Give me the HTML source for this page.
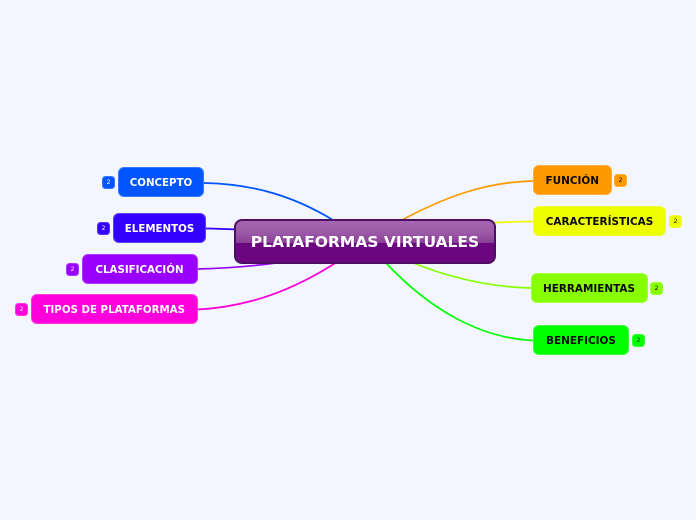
<!DOCTYPE html>
<html>
<head>
<meta charset="utf-8">
<style>
html,body{margin:0;padding:0;width:696px;height:520px;overflow:hidden;background:#f3f6ff;}
body{position:relative;font-family:"DejaVu Sans","Liberation Sans",sans-serif;}
svg{position:absolute;left:0;top:0;}
.n{position:absolute;box-sizing:border-box;height:30px;border-radius:6px;font-weight:bold;font-size:10.250px;line-height:32px;text-align:center;white-space:nowrap;box-shadow:inset 0 0 0 1px rgba(255,255,255,.22);}
.w{color:#fff}.k{color:#0a0a0a}
.n.k{font-size:10.450px}
.b{position:absolute;box-sizing:border-box;width:13px;height:13px;border-radius:3.5px;font-size:6px;line-height:13px;text-align:center;box-shadow:inset 0 0 0 1px rgba(255,255,255,.2);}
#c{position:absolute;left:234px;top:219px;width:262px;height:44.500px;box-sizing:border-box;border:2px solid #4d0f63;border-radius:8px;background:linear-gradient(#a767b1 0,#9a58a6 30%,#8b3f98 53%,#6a0680 54%,#6a0680 100%);color:#fff;font-weight:bold;font-size:15.500px;line-height:43px;text-align:center;white-space:nowrap;}
</style>
</head>
<body>
<svg width="696" height="520" fill="none" stroke-width="1.7" stroke-linecap="round">
<path d="M204 183C255 184 295 197 333 220" stroke="#0055ff"/>
<path d="M206 228.500C216 228.500 225 229 236 229.500" stroke="#3300ff"/>
<path d="M197 269C225 268.500 255 266 283 262" stroke="#9900ff"/>
<path d="M197 309.500C250 307 295 289 337 262" stroke="#ff00dd"/>
<path d="M533 181C485 182 445 197 400 221" stroke="#ff9900"/>
<path d="M533 221.500C520 221.500 510 222 495 222.500" stroke="#eeff00"/>
<path d="M531 288C490 287 450 278 411 262" stroke="#88ff00"/>
<path d="M533 340.500C480 338 430 310 385 262" stroke="#00ff00"/>
</svg>

<div class="n w" style="left:118px;top:167px;width:86px;background:#0055ff">CONCEPTO</div>
<div class="n w" style="left:113px;top:213px;width:93px;background:#3300ff">ELEMENTOS</div>
<div class="n w" style="left:81.500px;top:254px;width:116px;background:#9900ff">CLASIFICACIÓN</div>
<div class="n w" style="left:31px;top:294px;width:166.500px;background:#ff00dd">TIPOS DE PLATAFORMAS</div>

<div class="n k" style="left:533px;top:165px;width:78.500px;background:#ff9900">FUNCIÓN</div>
<div class="n k" style="left:533px;top:206px;width:133px;background:#eeff00">CARACTERÍSTICAS</div>
<div class="n k" style="left:530.500px;top:273px;width:117px;background:#88ff00">HERRAMIENTAS</div>
<div class="n k" style="left:533px;top:325px;width:96px;background:#00ff00">BENEFICIOS</div>

<div class="b w" style="left:102px;top:176px;background:#0055ff">2</div>
<div class="b w" style="left:97px;top:222px;background:#3300ff">2</div>
<div class="b w" style="left:66px;top:263px;background:#9900ff">2</div>
<div class="b w" style="left:15px;top:303px;background:#ff00dd">2</div>

<div class="b k" style="left:614px;top:174px;background:#ff9900">2</div>
<div class="b k" style="left:669px;top:215px;background:#eeff00">2</div>
<div class="b k" style="left:650px;top:281.500px;background:#88ff00">2</div>
<div class="b k" style="left:632px;top:334px;background:#00ff00">2</div>

<div id="c">PLATAFORMAS VIRTUALES</div>
</body>
</html>
